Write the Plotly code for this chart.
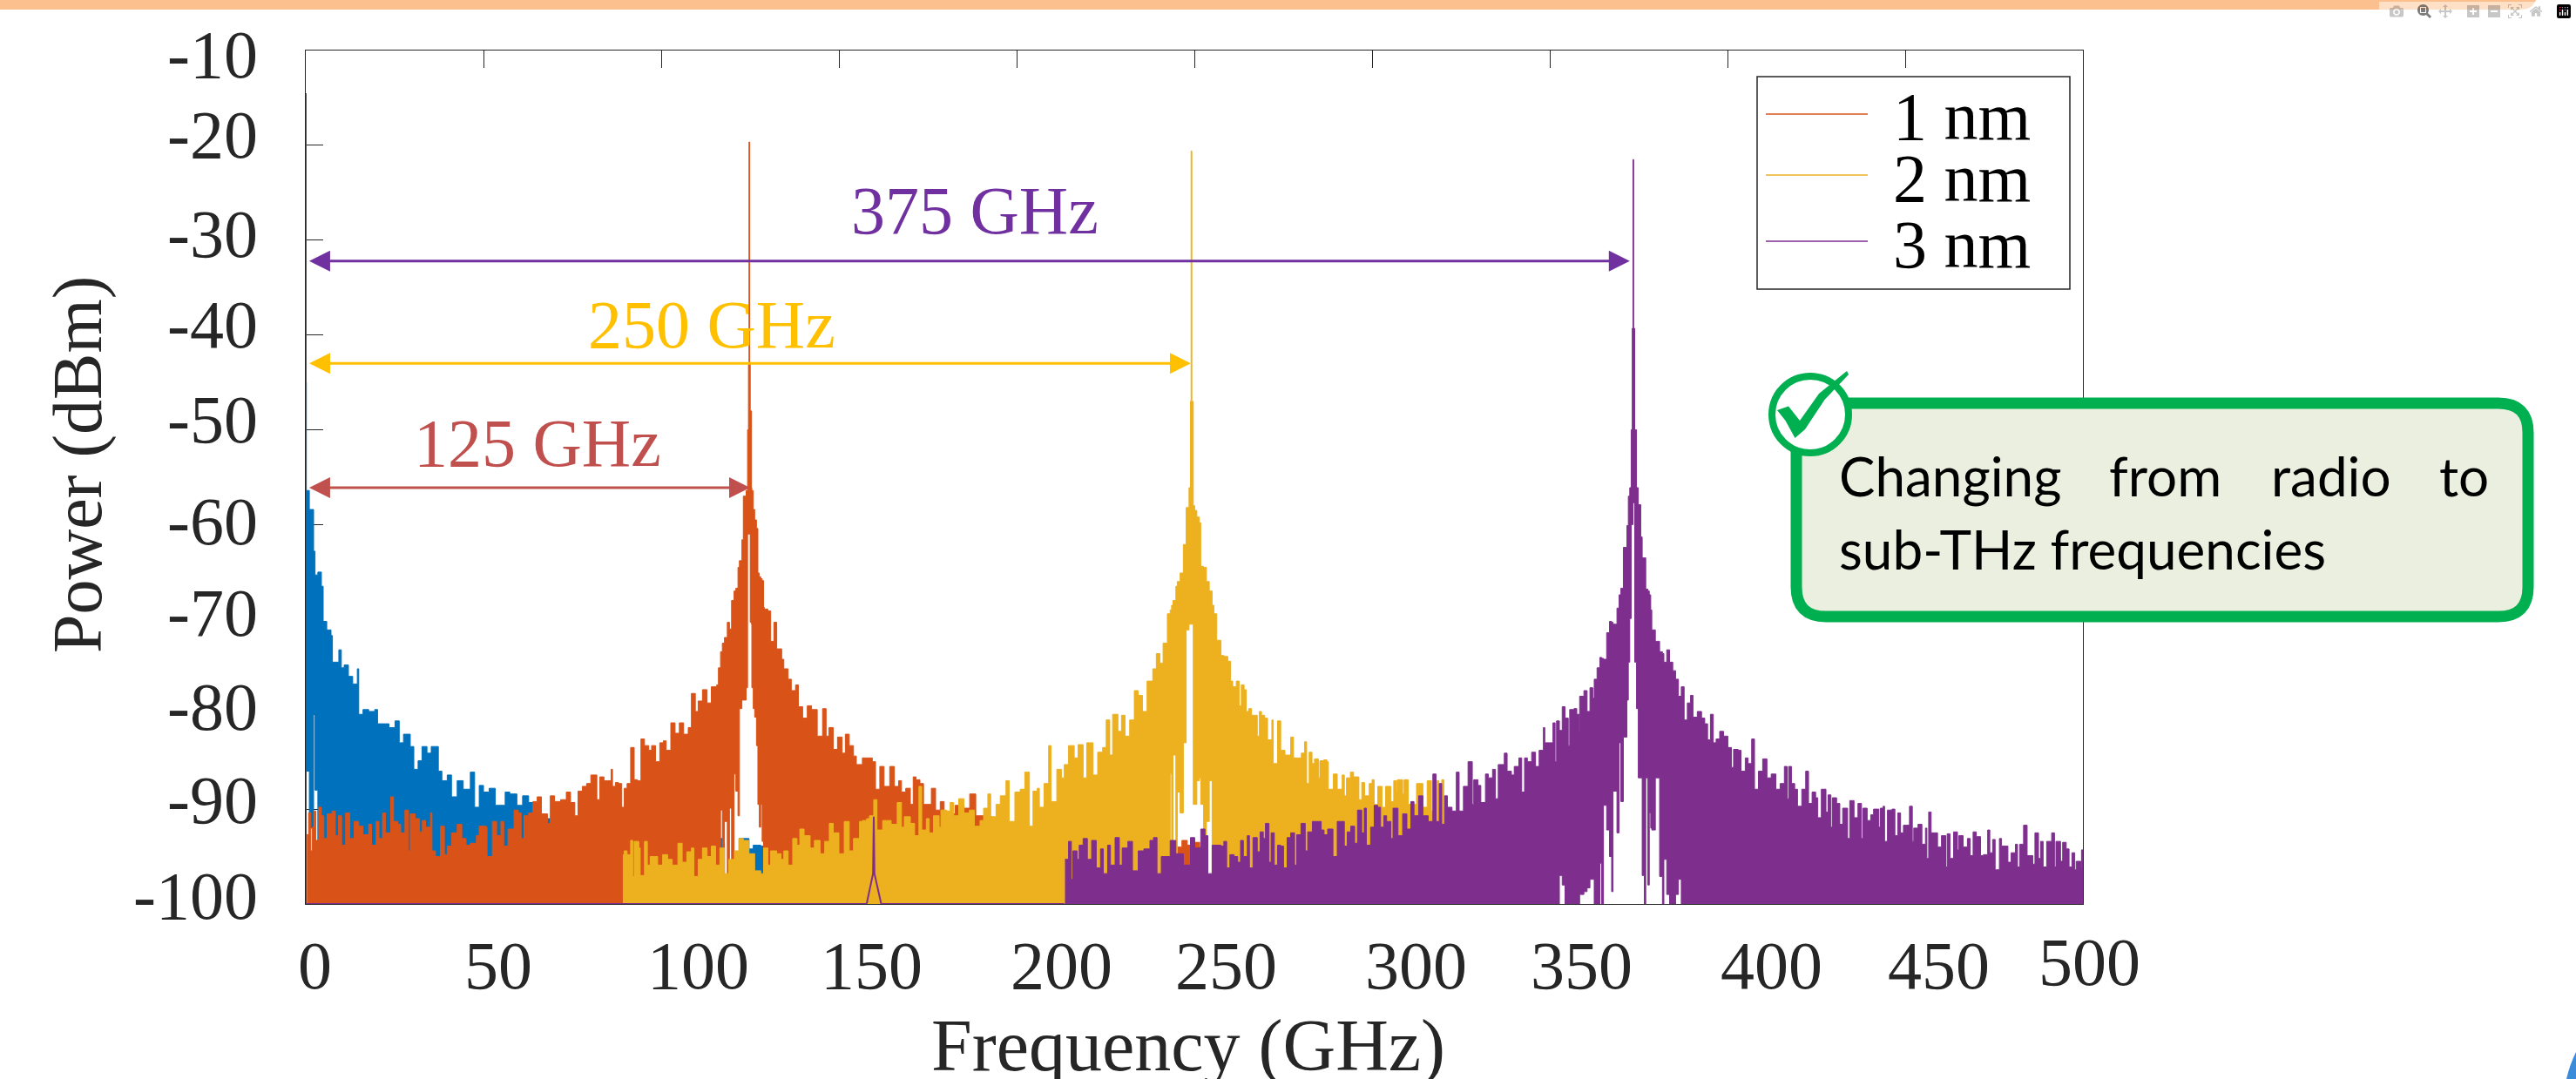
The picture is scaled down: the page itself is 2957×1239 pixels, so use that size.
import plotly.graph_objects as go

# ---------- values (GHz / dBm) ----------
blue_freq = [0.05,0.1,0.16,1.0,2.2,2.6,3.4,4.4,4.9,5.9,7.1,7.5,9.3,10,10.8,12,13.2,14.5,14.9,16.1,17.7,19.4,20.2,22.2,23.4,25.1,26.3,27.5,29.4,30.4,31.6,32.7,34.1,35.3,36.3,37.3,38.3,39.8,41,42.6,44.3,46.3,47.5,48.8,50,51.6,53.3,56.1,57.4,59.4,61,62.7,64,80,100,112,116.1,117.4,117.8,119.8,121.9,124.7,125.9,127,128,128.8,130]
blue_top = [-26.6,-45,-56.4,-58.4,-62.8,-65.3,-65,-66.5,-70.2,-71.1,-71.7,-74.5,-73.2,-75.1,-74.8,-76,-76.8,-75.2,-80,-79.5,-79.7,-79.5,-81,-81,-81.4,-80.7,-83,-82.1,-83.4,-85.8,-84.9,-83.4,-84.1,-83.4,-83.4,-86,-87,-86.4,-88.7,-87,-87.9,-86.1,-89.8,-87.5,-88.2,-87.8,-89.6,-88.2,-88.4,-89.6,-88.6,-89.3,-91,-93,-94,-94,-93.1,-93.6,-97,-95.3,-93.1,-94.2,-93.8,-93.8,-93.9,-95.9,-100]
blue_low = [-100,-100,-70,-86,-92,-80,-88,-100] + [-100]*59

orange_left_freq = [0.3,0.8,1.4,1.8,2.4,2.8,3.6,4.4,5.1,6,7.4,8.3,9.2,10.1,11.2,12.4,13.6,14.9,16.1,17.7,18.5,19.8,20.6,21.6,22.4,23.9,24.7,25.9,26.7,27.9,28.9,29.4,30.8,32,32.8,33.7,35.1,35.5,36.5,37.9,39,39.8,41,42.6,43.9,45.1,46.3,48,48.8,50.8,51,52.5,53.7,54.9,55.7,56.9,58.6,59.8,60.6,61.4,62.7,63.9,65.1,66.3,68,68.8,70,71.7,73.3,74.5,75.7,76.6,77.8,79,80.2,81.9,82.7,83.9,85.9,86.3,87.1,88,88.9,89.6,90.4,91.4,92.4,93.3,94.3,95.3,96.5,97.3,98.4,99.6,100.6,101.4,102.7,103.9,105.1,106.3,107.6,108.5,109.6,110.4,111.6,112.9,114.1,115.6,116.1]
orange_left_top = [-92.7,-90.4,-94.4,-91.9,-90.2,-93.3,-89.8,-90.7,-93.1,-90.5,-90.2,-92.8,-90.7,-93.8,-90.4,-93.1,-91.3,-91.8,-92.7,-91.6,-93.8,-91.3,-93.1,-90.4,-92.5,-88.7,-91.3,-91.6,-92.5,-90.1,-94.4,-90.5,-91,-92.4,-91.2,-91.9,-90.4,-94.4,-95,-91.8,-94.8,-93.9,-92.5,-91.6,-93.1,-93.8,-93.6,-92.8,-91.8,-91.9,-95,-91.3,-92.8,-91.3,-93.9,-92.1,-90.1,-90.4,-93.1,-90.7,-90.4,-89.2,-88.7,-90.5,-91.5,-88.6,-89.2,-89,-88.2,-89.3,-90.7,-88.1,-87.6,-87.3,-86.4,-89,-86.6,-87,-85.8,-87.6,-87.2,-87.3,-89.8,-87.8,-87.3,-83.5,-86.9,-87,-82.6,-83.3,-83.8,-83.3,-85,-83,-82.8,-83.8,-80.9,-82,-80.9,-82.1,-81.4,-77.8,-79.7,-78.6,-77.4,-78.8,-77.1,-76.9,-75.1]
orange_peak_freq = [116.7,117.2,117.8,118.6,119.2,119.8,120.5,121,121.6,122,122.7,123.1,123.9,124.3,124.55,124.7,124.9,125.05,125.4,125.5,125.9,126.3,126.8,127.2,127.6,128,128.4,128.8,129]
orange_peak_top = [-73.4,-72.5,-71.9,-70.3,-71,-68,-67,-66.7,-64.5,-63.8,-61.6,-57,-56.4,-50,-43,-19.65,-43,-48,-56.1,-56.4,-58.4,-59.5,-60.4,-65.1,-65.5,-65.7,-65.9,-68.7,-68.9]
orange_peak_low = [-100,-90.1,-100,-91.3,-100,-89.9,-100,-86.3,-88.1,-90.7,-79.4,-78.5,-78.5,-77.2,-61,-61,-61,-61,-70.3,-70.5,-77.2,-79.4,-80.3,-83.3,-89.5,-91.9,-89.5,-93.4,-100]
orange_right_freq = [130,130.8,131.7,132.5,133.9,134.5,135.7,136.6,137.8,138.6,139.8,141.1,142.3,143.9,145.4,146.4,147.2,148.4,149.6,150.9,151.8,152.9,154.1,154.9,156.6,157.8,159.4,160.3,161.5,162.7,164.3,165.6,166.8,167.6,168.8,170.1,170.9,171.7,172.8,173.8,176,177.2,178.5,179.6,182.7,185.2,186.8,188.5,192.5,193,245,246.5,248,250,251.5,252.5,253]
orange_right_top = [-69.1,-72.3,-70.3,-73.1,-74.2,-75.2,-76.3,-77.5,-76.9,-79.2,-80.4,-79.1,-79.5,-82.3,-79.4,-82.3,-81.4,-83.7,-82.4,-84.1,-82.1,-83.3,-84.4,-85.3,-84.6,-84.6,-85,-87.9,-85.5,-87.6,-85.5,-87.6,-87,-88.2,-87.8,-89.5,-86.6,-86.9,-87.3,-89.5,-87.8,-90.1,-89.2,-90.5,-89.6,-89.9,-88.4,-90.7,-90.8,-94,-94,-93.3,-93.8,-93.5,-94,-96,-100]

yellow_left_freq = [89.2,89.6,90.4,91.4,92,92.4,93.7,94.1,95.3,96.1,96.9,98.2,99,100.4,101.8,103.1,104.7,105.9,107.2,108.5,109.2,110.4,111.6,112.9,114.1,115.3,116.5,117.8,119,120.6,121.9,123.1,124.1,124.7,126.3,128,128.8,130,130.8,132.5,133.7,134.5,135.7,137,138.2,139,140.2,141.9,143.1,144.7,146,147.3,148.4,150,151.5,152.9,154.1,155.8,156.6,157.8,158.6,159.8,160.7,162.3,163.5,164.7,166.4,167.6,168.4,170.1,171.3,172.5,173.3,174.6,175.4,176.6,178.2,178.7,180.3,181.3,182.3,183.7,185.2,186.7,188.1,189.7,190.7,191.9,192.7,194.2,195.4,197,197.9,199.5,201,202.3,203.6,204.6,205.8,206.4,207.7,209,209.7,211.3,212.6,213.4,214.6,216.2,217.3,218.7,219.7,220.7,221.5,222.8,224.2,225.2,226.2,227,228.5,229.5,230.5,231.8,233.1,234.2,235.4,236.7,238.3,239.3,240.3,241.2,242.4]
yellow_left_top = [-94.8,-94.4,-94.8,-93.3,-97.1,-93.4,-94.1,-97,-93.4,-95.9,-95,-95,-95.9,-94.8,-95.3,-95.9,-93.6,-95.6,-94.5,-94.1,-97.1,-95.3,-94.1,-95,-93.9,-95.9,-94.1,-96.8,-95.3,-94.4,-93.1,-93.3,-93.3,-94.7,-96.5,-96.8,-94.1,-95.9,-94.4,-94.7,-95.3,-94.4,-95.9,-93.1,-93.8,-92.1,-92.8,-94.1,-93.3,-94.7,-93.4,-91.5,-92.5,-94.7,-91.3,-94.4,-93.1,-91.3,-91.2,-91,-90.7,-89,-92.2,-91.2,-91.2,-91.6,-89.3,-91.9,-90.8,-91.5,-92.8,-87.6,-92.2,-91,-92.5,-90.7,-91.9,-90.1,-90.2,-89.3,-90.7,-88.9,-90.4,-90.1,-91.8,-91.2,-89.9,-88.4,-90.8,-89.5,-88.6,-87,-91.3,-88.2,-87.9,-86.1,-91.8,-88.1,-87.8,-89.8,-87.3,-83.3,-89.2,-85.8,-86.7,-85.3,-83.3,-84.6,-83.2,-86.7,-83,-83,-86.4,-84,-83.5,-80.6,-84.3,-80,-81.8,-80.1,-82.3,-80.6,-77.5,-78,-79.7,-76.5,-75.2,-73.6,-74.6,-72.5,-69.4]
yellow_peak_freq = [243.2,243.6,244,244.8,245.2,246,246.9,247.7,248.5,248.9,249.08,249.3,249.7,250.1,250.7,251.4,251.8,252.6,253.4,254.2,255,255.5]
yellow_peak_top = [-69,-68.5,-68,-66.5,-66,-65.1,-62.1,-58.2,-56.1,-47,-20.6,-47,-58,-58.5,-59.2,-59.8,-64.4,-64.5,-66,-67,-68.5,-69.4]
yellow_peak_low = [-100,-86.3,-100,-84.3,-100,-88.2,-90.4,-83,-71.1,-70.5,-70.5,-70.5,-70.5,-89.5,-89.5,-87,-86.7,-89.5,-93.8,-91.3,-87,-100]
yellow_right_freq = [256.3,257.5,258.3,259.4,260.2,260.8,261.8,262.6,263.2,264,264.6,265.3,266.1,267.1,267.7,268.3,268.9,269.8,270.6,271.8,272.2,273.4,274.3,275.5,277.1,277.9,279.2,280.1,281,281.6,282.3,283.1,283.8,284.9,285.3,286.4,287.3,287.7,289.1,290.2,291.6,292.2,292.8,293.9,294.8,295.7,296.3,297.1,297.9,299.2,300,300.6,301.6,302.8,303.8,305.3,306.1,306.9,307.1,308.6,309,310.2,312.5,314.3,315.5,316.7,318,318.8,319.6,320.2,320.5]
yellow_right_top = [-72.2,-73.8,-73.9,-74.4,-76.5,-77.1,-76.5,-79.1,-76.9,-77.4,-79.7,-79.4,-80.1,-80.1,-82.3,-79.7,-80.1,-80.4,-82.7,-80.6,-85.2,-80.7,-83.8,-84.3,-82.4,-84.6,-84.6,-84.1,-82.9,-87.3,-84,-85.2,-84.7,-86.7,-84.9,-84.8,-85,-87.9,-86.3,-87.9,-86.4,-88.6,-86.7,-86.1,-86.6,-86.6,-89,-87.2,-88.6,-87.3,-86.9,-89.5,-87.6,-89.8,-87.6,-89.2,-87,-88.2,-86.9,-88.4,-86.9,-89.5,-87.3,-89.8,-87,-90.2,-87,-89.8,-86.9,-91.3,-100]

purple_base_freq = [0,0,157.8,159.6,159.8,160,161.9,213.4]
purple_base_top = [-14.5,-100,-100,-96.8,-90.8,-96.8,-100,-100]
purple_left_freq = [213.6,214.6,215.4,215.8,217,217.6,218.7,219.9,221.1,222.4,223.6,224.4,225.6,226.4,227.7,228.9,229.7,231.3,232.6,234.2,235.8,237.5,238.5,239.5,240.7,243.2,244.8,246.9,248.9,250.1,251.8,253,253.8,255,257.5,258.3,259.1,260,261.2,262.2,263,263.8,264.9,265.5,266.5,267.7,268.5,269.4,270,271,271.6,272.5,273.4,274.3,275.1,276.1,277.1,278.2,278.8,280,281.2,281.9,283.2,284.5,285.7,286.5,287.5,289,290.2,291,292.2,293,294,295.1,295.9,297.1,297.8,298.4,299.6,300.6,301.6,302.4,303.3,304.1,305.3,305.9,306.5,307.3,308.6,309.8,310.9,311.8,313.1,314.3,315.8,317.1,318,318.9,319.6,320.4,321.2,322.5,323.7,324.5,325.7,327,328.2,328.6,329.8,330.6,331.9,332.7,333.9,334.7,335.5,336.3,337.2,338,339.2,340,341.3,342.1,342.9,343.7,344.9,346,347,348.2,348.6,349.8,350.9,351.5,351.9,352.7]
purple_left_top = [-95.3,-93.4,-97.4,-94.4,-95.3,-93.8,-93.1,-95.3,-93.3,-96.2,-94.2,-96.8,-93.8,-95.9,-93,-95.9,-94.1,-93.4,-96.5,-94.4,-94.2,-93.3,-93,-96.8,-95,-93.3,-94.7,-95.9,-93,-94.1,-92.1,-92.8,-96.8,-93.8,-93.9,-93.4,-96.2,-94.8,-95,-95.6,-93.3,-95,-92.8,-96.2,-93,-94.5,-92.4,-93.1,-91.5,-95.6,-92.5,-95.9,-93.8,-93.9,-96.2,-93,-92.5,-95.9,-92.7,-91.5,-94.4,-92.4,-91.3,-91.3,-92.2,-92.7,-92.1,-95,-91.3,-91.3,-93.9,-92.4,-91.8,-93.6,-90.1,-92.5,-89.9,-93.8,-91.9,-89.6,-89.8,-91.9,-90.7,-91.3,-93.1,-89.9,-89.9,-92.8,-90.5,-92.1,-89.2,-90.7,-88.6,-90.7,-91.3,-86.3,-91.3,-87.3,-91.6,-88.6,-89.8,-90.2,-86.1,-90.2,-87.6,-85,-89.5,-86.9,-87.5,-89.3,-86.3,-86.7,-85.8,-88.9,-85.3,-85.3,-84.1,-86,-86.4,-85.5,-84.6,-88.2,-84.6,-85,-84,-85.5,-83.8,-81.4,-83,-83,-80.9,-85,-80.7,-81.7]
purple_peak_freq = [353.5,354.3,355.2,355.6,356.8,357.6,358.3,358.4,359.6,360.5,361.3,362.1,362.5,363.3,364.1,364.6,365.1,366,366.8,367.4,367.8,368.9,369.5,370,370.7,371.7,372.1,372.5,372.9,373.2,373.4,373.6,373.9,374.4,374.9,375.6,376,376.6,377,377.6,378,378.4,378.7,379.7,380.9,381.7,382.1,382.9,383.7,384.6,385.4,386.2,387,387.8]
purple_peak_top = [-79.2,-80.4,-83.3,-79.5,-79.4,-80,-81.8,-78.1,-77.5,-79.7,-77.2,-78.3,-76.3,-75.1,-74,-74.1,-74.2,-71.4,-70.2,-70.3,-70.5,-68.8,-67.4,-66.7,-62.4,-60.1,-57,-56.1,-50,-39.3,-21.5,-39.3,-50,-56.1,-57.9,-61.3,-63.5,-63.5,-66.8,-67,-67.4,-69,-71.1,-72.3,-73.4,-73.6,-74.5,-73.2,-74.5,-75.4,-76.3,-78.1,-77.1,-80.6]
purple_peak_low = [-97,-98,-100,-100,-100,-100,-100,-100,-99,-98.7,-98.3,-97.4,-97.4,-100,-100,-95.7,-100,-89.6,-92.2,-95,-98.7,-88.1,-92.5,-83,-89.2,-82.4,-78.5,-74.5,-69.9,-60,-60,-57.7,-57.7,-74.5,-79.4,-86.7,-86.7,-97,-100,-86.7,-98,-90.4,-92,-92.2,-86.7,-97.1,-100,-95.3,-99,-100,-100,-99,-97.4,-100]
purple_right_freq = [388.7,389.6,390.3,391.5,392.7,393.6,394.4,395.2,396,396.8,397.8,398.9,400.1,401.1,401.7,403,403.8,405,405.8,406.8,407.6,408.7,409.9,411.1,412.3,413.6,414.8,416,416.8,417.2,418,418.9,419.7,420.9,422,422.8,423.8,424.8,425.4,426.4,427.7,428.3,429.1,429.5,430.7,431.6,432.4,433.8,434.4,435.6,436.7,437.7,438.1,439.3,440.3,441.1,442.6,443,443.8,444.2,445,446.3,447.1,447.9,448.7,449.5,450.4,451.2,452,452.4,453.6,454.7,455.7,456.1,456.6,457.3,458.1,459.1,460.2,461.4,461.8,462.6,463.6,464.7,465.1,466.3,467.5,468.3,469.1,470,471.2,472,473.2,473.8,474.6,475.3,476.5,477.1,477.9,478.9,479.8,481,481.6,482.2,483.3,484.3,485.2,485.9,486.5,487.5,488.1,488.8,489.8,491.2,492,492.4,493.7,494.3,495.3,496.1,496.9,497.7,498.1,499.4,499.6,500]
purple_right_top = [-78.8,-78,-80.3,-79.7,-80.4,-81,-82.7,-80,-83,-82.6,-81.8,-82.3,-83.5,-85.6,-83.7,-83.8,-86,-84.6,-85.2,-82.6,-87.9,-86,-84.7,-86.7,-86.3,-87.9,-87.3,-85.5,-88.9,-85.5,-87.3,-87.9,-89.7,-87.9,-86,-89.4,-88.2,-88.8,-90.9,-87.9,-90.3,-88.5,-91.9,-88.8,-89.4,-91.6,-89.9,-93.1,-89.1,-90.9,-89.4,-93.1,-89.9,-91.2,-90.6,-90,-91.9,-89.9,-89.7,-93.4,-90.1,-90,-92.8,-90.4,-92.5,-91.7,-91.7,-89.7,-93.4,-92,-91.6,-93.7,-92,-95.2,-90.3,-92.5,-92.5,-94,-92.8,-96.1,-92.6,-95.2,-92.4,-94.3,-92.8,-94,-93.1,-94.9,-92.4,-92.9,-94.9,-94.8,-92.2,-94.6,-93.2,-96.4,-93.1,-93.9,-93.9,-95.6,-94.6,-93.7,-96.1,-93.7,-91.7,-94.9,-94.9,-95.8,-92.5,-95.2,-93.4,-96.1,-93.4,-92.5,-96.1,-93.4,-95.5,-93.5,-94.2,-96.1,-94.6,-96.4,-95.5,-96.1,-94.3,-94.3]

x_tick_vals = [0,50,100,150,200,250,300,350,400,450,500]
y_tick_vals = [-100,-90,-80,-70,-60,-50,-40,-30,-20,-10]
x_tick_labels = ["0","50","100","150","200","250","300","350","400","450","500"]
y_tick_labels = ["-100","-90","-80","-70","-60","-50","-40","-30","-20","-10"]

series_names = ["1 nm","2 nm","3 nm"]
spacing_labels = ["125 GHz","250 GHz","375 GHz"]
spacing_ends = [125,249,372.5]
spacing_levels = [-56.1,-43,-32.2]

# ---------- layout geometry (pixels of the 2957x1239 page) ----------
W,H = 2957,1239
L,R,T,B = 351,2391,58,1038
x_label_px = [361,572,801,1000,1218,1407,1625,1815,2033,2225,2398]
x_label_py = [1108]*10+[1104]
y_label_py = [1028,918,811,703,598,482,373,268,155,62]
SERIF = "Liberation Serif"
INK = "#262626"
BLUE,ORANGE,YELLOW,PURPLE = "#0072BD","#D95319","#EDB120","#7E2F8E"

def fx(p): return (p-L)/(R-L)
def fy(p): return (B-p)/(B-T)
def pt(x,y): return f"{fx(x):.5f} {fy(y):.5f}"

def band(freq, top, low, color):
    xs = list(freq)+list(freq)[::-1]
    ys = list(top)+list(low)[::-1]
    return go.Scatter(x=xs,y=ys,mode="lines",fill="toself",fillcolor=color,
                      line=dict(color=color,width=1,shape="hv"),hoverinfo="skip",showlegend=False)

fig = go.Figure()
fig.add_trace(band(blue_freq,blue_top,blue_low,BLUE))

of = orange_left_freq+orange_peak_freq+orange_right_freq
ot = orange_left_top+orange_peak_top+orange_right_top
ol = [-100]*len(orange_left_freq)+orange_peak_low+[-100]*len(orange_right_freq)
fig.add_trace(band(of,ot,ol,ORANGE))

yf = yellow_left_freq+yellow_peak_freq+yellow_right_freq
yt = yellow_left_top+yellow_peak_top+yellow_right_top
yl = [-100]*len(yellow_left_freq)+yellow_peak_low+[-100]*len(yellow_right_freq)
fig.add_trace(band(yf,yt,yl,YELLOW))

fig.add_trace(go.Scatter(x=purple_base_freq,y=purple_base_top,mode="lines",
                         line=dict(color=PURPLE,width=2),hoverinfo="skip",showlegend=False))
pf = purple_left_freq+purple_peak_freq+purple_right_freq
pt_ = purple_left_top+purple_peak_top+purple_right_top
pl = [-100]*len(purple_left_freq)+purple_peak_low+[-100]*len(purple_right_freq)
fig.add_trace(band(pf,pt_,pl,PURPLE))

ann = []
def text(s,x,y,size=78,color=INK,anchor="center",family=SERIF,angle=0):
    ann.append(dict(text=s,x=fx(x),y=fy(y),xref="paper",yref="paper",showarrow=False,
                    xanchor=anchor,yanchor="middle",textangle=angle,
                    font=dict(family=family,size=size,color=color)))

for s,x,y in zip(x_tick_labels,x_label_px,x_label_py): text(s,x,y)
for s,y in zip(y_tick_labels,y_label_py): text(s,298,y,anchor="right")
text("Frequency (GHz)",1364,1201,size=84)
text("Power (dBm)",89,534,size=80,angle=-90)

spacing_colors = ["#C0504D","#FFC000","#7030A0"]
spacing_px = [(617,509),(817,373),(1119,241)]
for s,c,(x,y) in zip(spacing_labels,spacing_colors,spacing_px): text(s,x,y,color=c)
for end,lev,c in zip(spacing_ends,spacing_levels,spacing_colors):
    ann.append(dict(text="",x=end,y=lev,ax=0.6,ay=lev,xref="x",yref="y",axref="x",ayref="y",
                    showarrow=True,arrowside="end+start",arrowhead=2,arrowsize=1.6,arrowwidth=3,arrowcolor=c))

# legend drawn to the reference's own tight spacing
legend_y = [131,201,277]
legend_text_y = [133,204,281]
for name,c,ly,ty in zip(series_names,[ORANGE,YELLOW,PURPLE],legend_y,legend_text_y):
    text(name,2171,ty,anchor="left",color="#000000")

# callout text
for s,x,y in [("Changing",2109,546),("from",2419,546),("radio",2605,546),("to",2798,546),("sub-THz frequencies",2109,630)]:
    text(s,x,y,size=62,color="#000000",anchor="left",family="Lato")

shapes = []
def rect(x0,y0,x1,y1,**kw):
    shapes.append(dict(type="rect",xref="paper",yref="paper",x0=fx(x0),y0=fy(y0),x1=fx(x1),y1=fy(y1),**kw))
rect(2017,88,2376,332,fillcolor="#FFFFFF",line=dict(color="#262626",width=1.5),layer="above")
for c,ly in zip([ORANGE,YELLOW,PURPLE],legend_y):
    shapes.append(dict(type="line",xref="paper",yref="paper",x0=fx(2027),x1=fx(2144),y0=fy(ly),y1=fy(ly),
                       line=dict(color=c,width=1.5),layer="above"))

# rounded callout
x0,y0,x1,y1,r = 2062,463,2902,708,34
path = (f"M {pt(x0+r,y0)} L {pt(x1-r,y0)} Q {pt(x1,y0)} {pt(x1,y0+r)} L {pt(x1,y1-r)} Q {pt(x1,y1)} {pt(x1-r,y1)} "
        f"L {pt(x0+r,y1)} Q {pt(x0,y1)} {pt(x0,y1-r)} L {pt(x0,y0+r)} Q {pt(x0,y0)} {pt(x0+r,y0)} Z")
shapes.append(dict(type="path",xref="paper",yref="paper",path=path,fillcolor="#EBEFDF",
                   line=dict(color="#00B050",width=13),layer="above"))
# check badge
shapes.append(dict(type="circle",xref="paper",yref="paper",x0=fx(2034),x1=fx(2122),y0=fy(432),y1=fy(520),
                   fillcolor="#FFFFFF",line=dict(color="#00B050",width=8),layer="above"))
check = [(2040,471),(2053,466.5),(2066,483),(2088,452),(2120,426),(2122,430),(2094.5,459),(2072,493),(2060.5,503),(2049.5,483)]
shapes.append(dict(type="path",xref="paper",yref="paper",
                   path="M "+" L ".join(pt(*p) for p in check)+" Z",fillcolor="#00B050",line=dict(width=0),layer="above"))
# page furniture
band_r = 2907
shapes.append(dict(type="path",xref="paper",yref="paper",
                   path=f"M {pt(0,0)} L {pt(band_r+4,0)} Q {pt(band_r,11)} {pt(band_r-14,11)} L {pt(0,11)} Z",
                   fillcolor="#FCC08F",line=dict(width=0),layer="above"))
shapes.append(dict(type="path",xref="paper",yref="paper",
                   path=f"M {pt(2957,1208)} Q {pt(2950,1222)} {pt(2946,1239)} L {pt(2957,1239)} Z",
                   fillcolor="#3B8BDB",line=dict(width=0),layer="above"))

fig.update_layout(width=W,height=H,autosize=False,paper_bgcolor="#FFFFFF",plot_bgcolor="#FFFFFF",
                  margin=dict(l=L,r=W-R,t=T,b=H-B,pad=0),showlegend=False,annotations=ann,shapes=shapes,
                  font=dict(family=SERIF,color=INK))
axis_common = dict(showgrid=False,zeroline=False,showline=True,linecolor="#262626",linewidth=1,
                   ticks="inside",ticklen=20,tickwidth=1,tickcolor="#262626",showticklabels=False,layer="below traces")
fig.update_xaxes(range=[0,500],tickvals=x_tick_vals,mirror="ticks",**axis_common)
fig.update_yaxes(range=[-100,-10],tickvals=y_tick_vals,mirror=True,**axis_common)

fig.write_html("out.html",post_script="document.body.style.margin='0';document.body.style.overflow='hidden';")
